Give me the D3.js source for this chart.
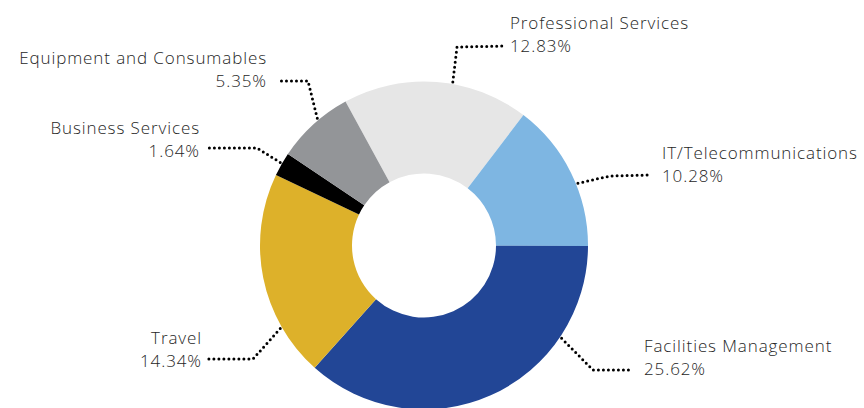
<!DOCTYPE html>
<html>
<head>
<meta charset="utf-8">
<script src="https://cdn.jsdelivr.net/npm/d3@7"></script>
<style>
  html, body { margin: 0; padding: 0; background: #fff; }
  svg text { font-family: "Open Sans", sans-serif; font-size: 17px; font-weight: 350; letter-spacing: 0.9px; fill: #262626; }
  .leader { fill: none; stroke: #000; stroke-width: 3; stroke-linecap: round; stroke-dasharray: 0 5; }
</style>
</head>
<body>
<svg id="chart" width="864" height="408"></svg>
<script>
// data
var categories = ['Professional Services', 'IT/Telecommunications', 'Facilities Management',
                  'Travel', 'Business Services', 'Equipment and Consumables'];
var shares = [12.83, 10.28, 25.62, 14.34, 1.64, 5.35];
var colors = ['#e6e6e6', '#7eb6e2', '#224696', '#ddb12a', '#000000', '#939598'];

// label placement: anchor angle on the ring (deg), elbow point, end of leader, text spot
var labelLayout = [
  { angle: 10,  elbow: [457, 47],  end: [506, 46],  tx: 510, ty: 29,  anchor: 'start' },
  { angle: 68,  elbow: [610, 176], end: [651, 175], tx: 662, ty: 159, anchor: 'start' },
  { angle: 124, elbow: [593, 370], end: [632, 370], tx: 644, ty: 352, anchor: 'start' },
  { angle: 240, elbow: [253, 359], end: [208, 359], tx: 202, ty: 344, anchor: 'end' },
  { angle: 300, elbow: [257, 148], end: [205, 148], tx: 200, ty: 134, anchor: 'end' },
  { angle: 320, elbow: [308, 81],  end: [278, 81],  tx: 267, ty: 64,  anchor: 'end' }
];

var svg = d3.select('#chart'),
    cx = 424,
    cy = 245.5,
    outer = 164,
    inner = 72,
    start = -28.6 * Math.PI / 180;

var pie = d3.pie()
    .sort(null)
    .value(function(d) { return d; })
    .startAngle(start)
    .endAngle(start + 2 * Math.PI);

var arc = d3.arc().innerRadius(inner).outerRadius(outer);

var slices = pie(shares);

var g = svg.append('g').attr('transform', 'translate(' + cx + ',' + cy + ')');

g.selectAll('path.slice')
  .data(slices)
  .enter()
  .append('path')
  .attr('class', 'slice')
  .attr('d', arc)
  .attr('fill', function(d, i) { return colors[i]; });

var line = d3.line();

labelLayout.forEach(function(l, i) {
  var p = d3.pointRadial(l.angle * Math.PI / 180, outer + 2);
  svg.append('path')
     .attr('class', 'leader')
     .attr('d', line([[cx + p[0], cy + p[1]], l.elbow, l.end]));

  var t = svg.append('text')
     .attr('x', l.tx)
     .attr('y', l.ty)
     .attr('text-anchor', l.anchor);
  t.append('tspan').attr('x', l.tx).text(categories[i]);
  t.append('tspan').attr('x', l.tx).attr('dy', 23).text(shares[i].toFixed(2) + '%');
});
</script>
</body>
</html>
